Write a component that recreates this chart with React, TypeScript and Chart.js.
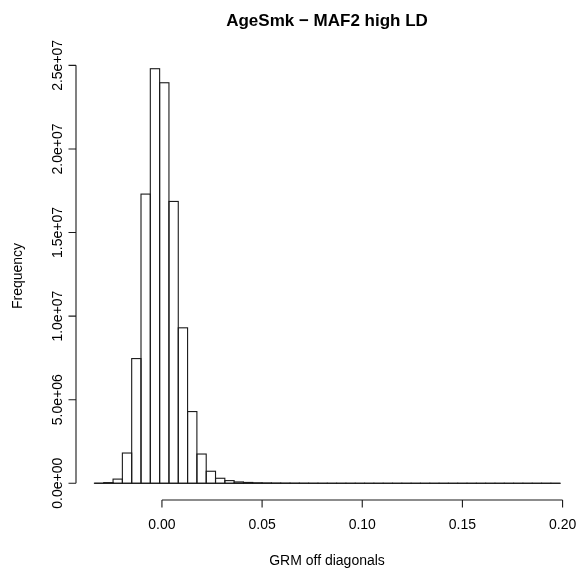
import React, { useEffect, useRef } from "react";
import { Chart, registerables } from "chart.js";

Chart.register(...registerables);

const titleText = "AgeSmk \u2212 MAF2 high LD";
const xAxisTitle = "GRM off diagonals";
const yAxisTitle = "Frequency";

// histogram breaks: first break and bin width (50 equal bins)
const breakStart = -0.0337;
const binWidth = 0.00465;
const binCounts = [
  5000, 40000, 250000, 1810000, 7460000, 17300000, 24800000, 23960000,
  16860000, 9300000, 4290000, 1750000, 720000, 300000, 160000, 80000,
  50000, 30000, 20000, 14000, 10000, 7000, 5000, 3000, 2000, 1500, 1000,
  700, 500, 400, 300, 200, 150, 100, 80, 60, 50, 40, 30, 20, 15, 10, 8,
  6, 5, 4, 3, 2, 1, 1,
];

const xTickValues = [0, 0.05, 0.1, 0.15, 0.2];
const xTickLabels = ["0.00", "0.05", "0.10", "0.15", "0.20"];
const yTickValues = [0, 5e6, 1e7, 1.5e7, 2e7, 2.5e7];
const yTickLabels = ["0.0e+00", "5.0e+06", "1.0e+07", "1.5e+07", "2.0e+07", "2.5e+07"];

const FONT = '"Liberation Sans", Arial, Helvetica, sans-serif';

const rStylePlugin = {
  id: "rStyle",
  afterDatasetsDraw(chart: any) {
    const ctx = chart.ctx as CanvasRenderingContext2D;
    const xs = chart.scales.x;
    const ys = chart.scales.y;
    const area = chart.chartArea;
    ctx.save();
    ctx.strokeStyle = "#1a1a1a";
    ctx.fillStyle = "#000";
    ctx.lineWidth = 1.1;

    // bar outlines
    const meta = chart.getDatasetMeta(0);
    meta.data.forEach((el: any, i: number) => {
      if (binCounts[i] <= 0) return;
      const p = el.getProps(["x", "y", "base", "width"], true);
      ctx.strokeRect(p.x - p.width / 2, p.y, p.width, p.base - p.y);
    });

    // baseline across all bins
    const y0 = ys.getPixelForValue(0);
    ctx.beginPath();
    ctx.moveTo(xs.getPixelForValue(breakStart), y0);
    ctx.lineTo(xs.getPixelForValue(breakStart + binCounts.length * binWidth), y0);
    ctx.stroke();

    // x axis
    const axY = area.bottom;
    ctx.beginPath();
    ctx.moveTo(xs.getPixelForValue(xTickValues[0]), axY);
    ctx.lineTo(xs.getPixelForValue(xTickValues[xTickValues.length - 1]), axY);
    xTickValues.forEach((v) => {
      const px = xs.getPixelForValue(v);
      ctx.moveTo(px, axY);
      ctx.lineTo(px, axY + 7.5);
    });
    ctx.stroke();
    ctx.font = `14px ${FONT}`;
    ctx.textAlign = "center";
    ctx.textBaseline = "alphabetic";
    xTickValues.forEach((v, i) => {
      ctx.fillText(xTickLabels[i], xs.getPixelForValue(v), axY + 29);
    });

    // y axis
    const axX = area.left;
    ctx.beginPath();
    ctx.moveTo(axX, ys.getPixelForValue(yTickValues[0]));
    ctx.lineTo(axX, ys.getPixelForValue(yTickValues[yTickValues.length - 1]));
    yTickValues.forEach((v) => {
      const py = ys.getPixelForValue(v);
      ctx.moveTo(axX, py);
      ctx.lineTo(axX - 7.5, py);
    });
    ctx.stroke();
    yTickValues.forEach((v, i) => {
      ctx.save();
      ctx.translate(axX - 14, ys.getPixelForValue(v));
      ctx.rotate(-Math.PI / 2);
      ctx.fillText(yTickLabels[i], 0, 0);
      ctx.restore();
    });

    // axis titles
    const cx = (area.left + area.right) / 2;
    const cy = (area.top + area.bottom) / 2;
    ctx.fillText(xAxisTitle, cx, axY + 65);
    ctx.save();
    ctx.translate(22, cy);
    ctx.rotate(-Math.PI / 2);
    ctx.fillText(yAxisTitle, 0, 0);
    ctx.restore();

    // main title
    ctx.font = `bold 17px ${FONT}`;
    ctx.fillText(titleText, cx, 26);
    ctx.restore();
  },
};

export default function App() {
  const ref = useRef<HTMLCanvasElement | null>(null);
  useEffect(() => {
    if (!ref.current) return;
    const data = binCounts.map((c, i) => ({ x: breakStart + (i + 0.5) * binWidth, y: c }));
    const chart = new Chart(ref.current, {
      type: "bar",
      data: {
        datasets: [
          {
            label: yAxisTitle,
            data,
            backgroundColor: "#ffffff",
            borderWidth: 0,
            barPercentage: 1,
            categoryPercentage: 1,
          } as any,
        ],
      },
      options: {
        responsive: false,
        animation: false,
        devicePixelRatio: 1,
        layout: { padding: { left: 76, right: 0, top: 52, bottom: 75 } },
        plugins: { legend: { display: false }, tooltip: { enabled: false }, title: { display: false } },
        scales: {
          x: { type: "linear", display: false, min: -0.0429, max: 0.2077, offset: false },
          y: { type: "linear", display: false, min: -1.0e6, max: 25.8e6 },
        },
      },
      plugins: [rStylePlugin],
    });
    return () => chart.destroy();
  }, []);
  return (
    <div style={{ position: "absolute", left: 0, top: 0, width: 578, height: 575, background: "#fff" }}>
      <canvas ref={ref} width={578} height={575} style={{ width: 578, height: 575, display: "block" }} />
    </div>
  );
}
